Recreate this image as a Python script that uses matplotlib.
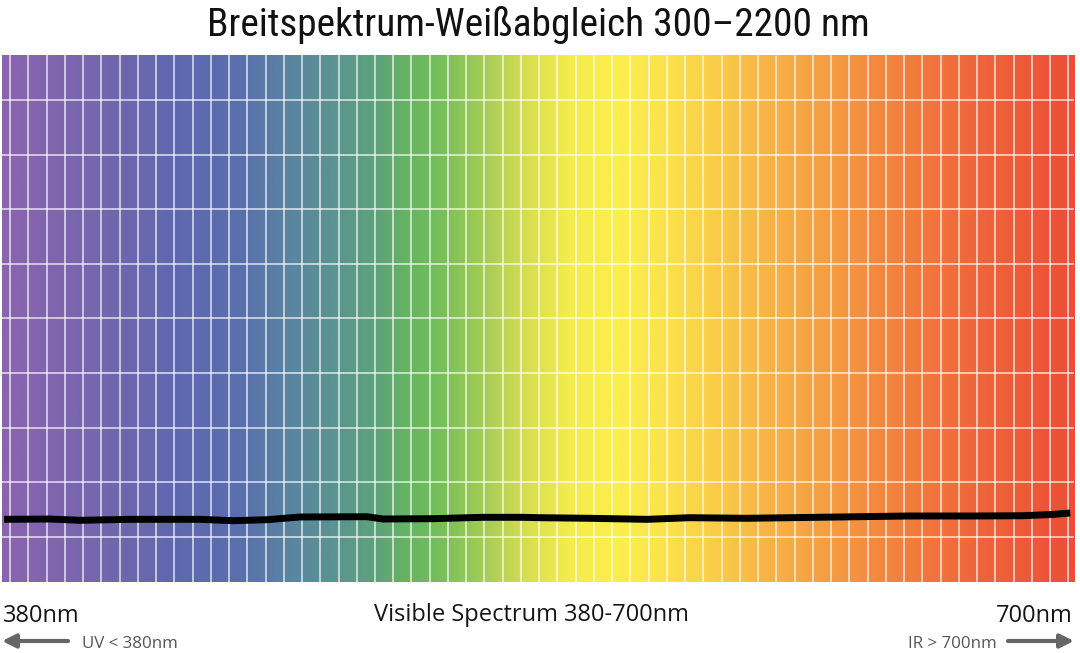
import numpy as np
import matplotlib
matplotlib.use("Agg")
import matplotlib.pyplot as plt
from matplotlib import font_manager as fm
from matplotlib.colors import LinearSegmentedColormap
from matplotlib.patches import FancyArrowPatch

# ---- data ----
title = "Breitspektrum-Weißabgleich 300–2200 nm"
wl_min, wl_max = 380, 700
line_wl = [380.7, 394.4, 403.4, 418.3, 439.2, 449.0, 459.2, 469.0, 489.0, 493.8,
           508.7, 523.6, 535.3, 540.6, 555.5, 572.6, 585.4, 602.4, 630.2, 650.2,
           669.9, 684.8, 693.8, 698.9]
line_val = [0.320, 0.326, 0.302, 0.320, 0.320, 0.295, 0.313, 0.363, 0.368, 0.326,
            0.332, 0.357, 0.357, 0.350, 0.339, 0.320, 0.350, 0.339, 0.363, 0.381,
            0.381, 0.386, 0.410, 0.436]
grad_pos = [0.00, 0.08, 0.16, 0.22, 0.27, 0.31, 0.35, 0.38, 0.41, 0.45, 0.49,
            0.53, 0.58, 0.62, 0.66, 0.71, 0.77, 0.84, 0.91, 1.00]
grad_col = ["#8a64ae", "#7766ae", "#5f68b0", "#5a6fae", "#5a85a0", "#5a9590",
            "#5da47a", "#66b560", "#78c05a", "#a6cc57", "#d8df50", "#f5ec4c",
            "#fbee4c", "#fbe24a", "#fbcf48", "#f8b545", "#f59d42", "#f2803e",
            "#ef653a", "#ec4e36"]
left_label = "380nm"
center_label = "Visible Spectrum 380-700nm"
right_label = "700nm"
uv_label = "UV < 380nm"
ir_label = "IR > 700nm"

# ---- fonts ----
def find_narrow():
    prefs = ["Liberation Sans Narrow", "DejaVu Sans Condensed", "Roboto Condensed",
             "Open Sans Condensed", "Noto Sans Condensed"]
    entries = fm.fontManager.ttflist
    for p in prefs:
        for e in entries:
            if e.name == p and e.weight in (400, "normal", "regular") and e.style == "normal":
                return fm.FontProperties(fname=e.fname)
    for e in entries:
        st = str(e.stretch).lower()
        if e.style == "normal" and ("condensed" in st or (isinstance(e.stretch, int) and e.stretch < 500)
                                    or "narrow" in e.fname.lower() or "condensed" in e.fname.lower()) \
                and "bold" not in e.fname.lower() and "oblique" not in e.fname.lower() \
                and "italic" not in e.fname.lower():
            return fm.FontProperties(fname=e.fname)
    return None

narrow = find_narrow()

# ---- figure ----
fig = plt.figure(figsize=(10.8, 6.53), dpi=100)
fig.patch.set_facecolor("white")
ax = fig.add_axes([0.0016, 0.1092, 0.9928, 0.8066])

cmap = LinearSegmentedColormap.from_list("spec", list(zip(grad_pos, grad_col)))
grad = np.linspace(0, 1, 512).reshape(1, -1)
ylo, yhi = -0.822, 8.824
ax.imshow(grad, cmap=cmap, aspect="auto", extent=[wl_min, wl_max, ylo, yhi],
          interpolation="bilinear", zorder=0)

step = 5.446
vx = 382.48 + step * np.arange(59)
for x in vx:
    ax.axvline(x, color="white", lw=1.1, alpha=0.8, zorder=1)
for y in range(9):
    ax.axhline(y, color="white", lw=1.1, alpha=0.8, zorder=1)

ax.plot(line_wl, line_val, color="black", lw=5.0, solid_capstyle="butt",
        solid_joinstyle="round", zorder=3)

ax.set_xlim(wl_min, wl_max)
ax.set_ylim(ylo, yhi)
ax.set_xticks([])
ax.set_yticks([])
for s in ax.spines.values():
    s.set_visible(False)

W, H = 1080, 653
def fx(px):
    return px / W
def fy(py):
    return (H - py) / H

if narrow is not None:
    tprops = narrow.copy()
    tsize = 28
else:
    tprops = fm.FontProperties(family=["Noto Sans", "DejaVu Sans"])
    tsize = 27
tprops.set_size(tsize)
t = fig.text(fx(538.5), fy(36), title, ha="center", va="baseline",
             fontproperties=tprops, color="#111111")
fig.canvas.draw()
bb = t.get_window_extent(renderer=fig.canvas.get_renderer())
target_w = 663.0
if bb.width > 0:
    new_size = min(tsize * target_w / bb.width, 30)
    tprops.set_size(new_size)
    t.set_fontproperties(tprops)

lab_font = ["Open Sans", "DejaVu Sans"]
for txt, x, y, ha, size, col in [
        (left_label, 3, 622, "left", 17.0, "#151515"),
        (center_label, 531.5, 621, "center", 17.0, "#151515"),
        (right_label, 1073, 622, "right", 17.0, "#151515"),
        (uv_label, 82, 647.5, "left", 12.2, "#555555"),
        (ir_label, 997, 647.5, "right", 12.2, "#555555")]:
    fig.text(fx(x), fy(y), txt, ha=ha, va="baseline", fontsize=size,
             family=lab_font, weight="normal", color=col)

arrow_kw = dict(arrowstyle="-|>,head_length=0.9,head_width=0.45", color="#666666",
                lw=3, shrinkA=0, shrinkB=0, mutation_scale=9)
fig.add_artist(FancyArrowPatch((fx(68), fy(641)), (fx(2), fy(641)),
               transform=fig.transFigure, **arrow_kw))
fig.add_artist(FancyArrowPatch((fx(1008), fy(641)), (fx(1074), fy(641)),
               transform=fig.transFigure, **arrow_kw))

fig.savefig("out.png", dpi=100)
